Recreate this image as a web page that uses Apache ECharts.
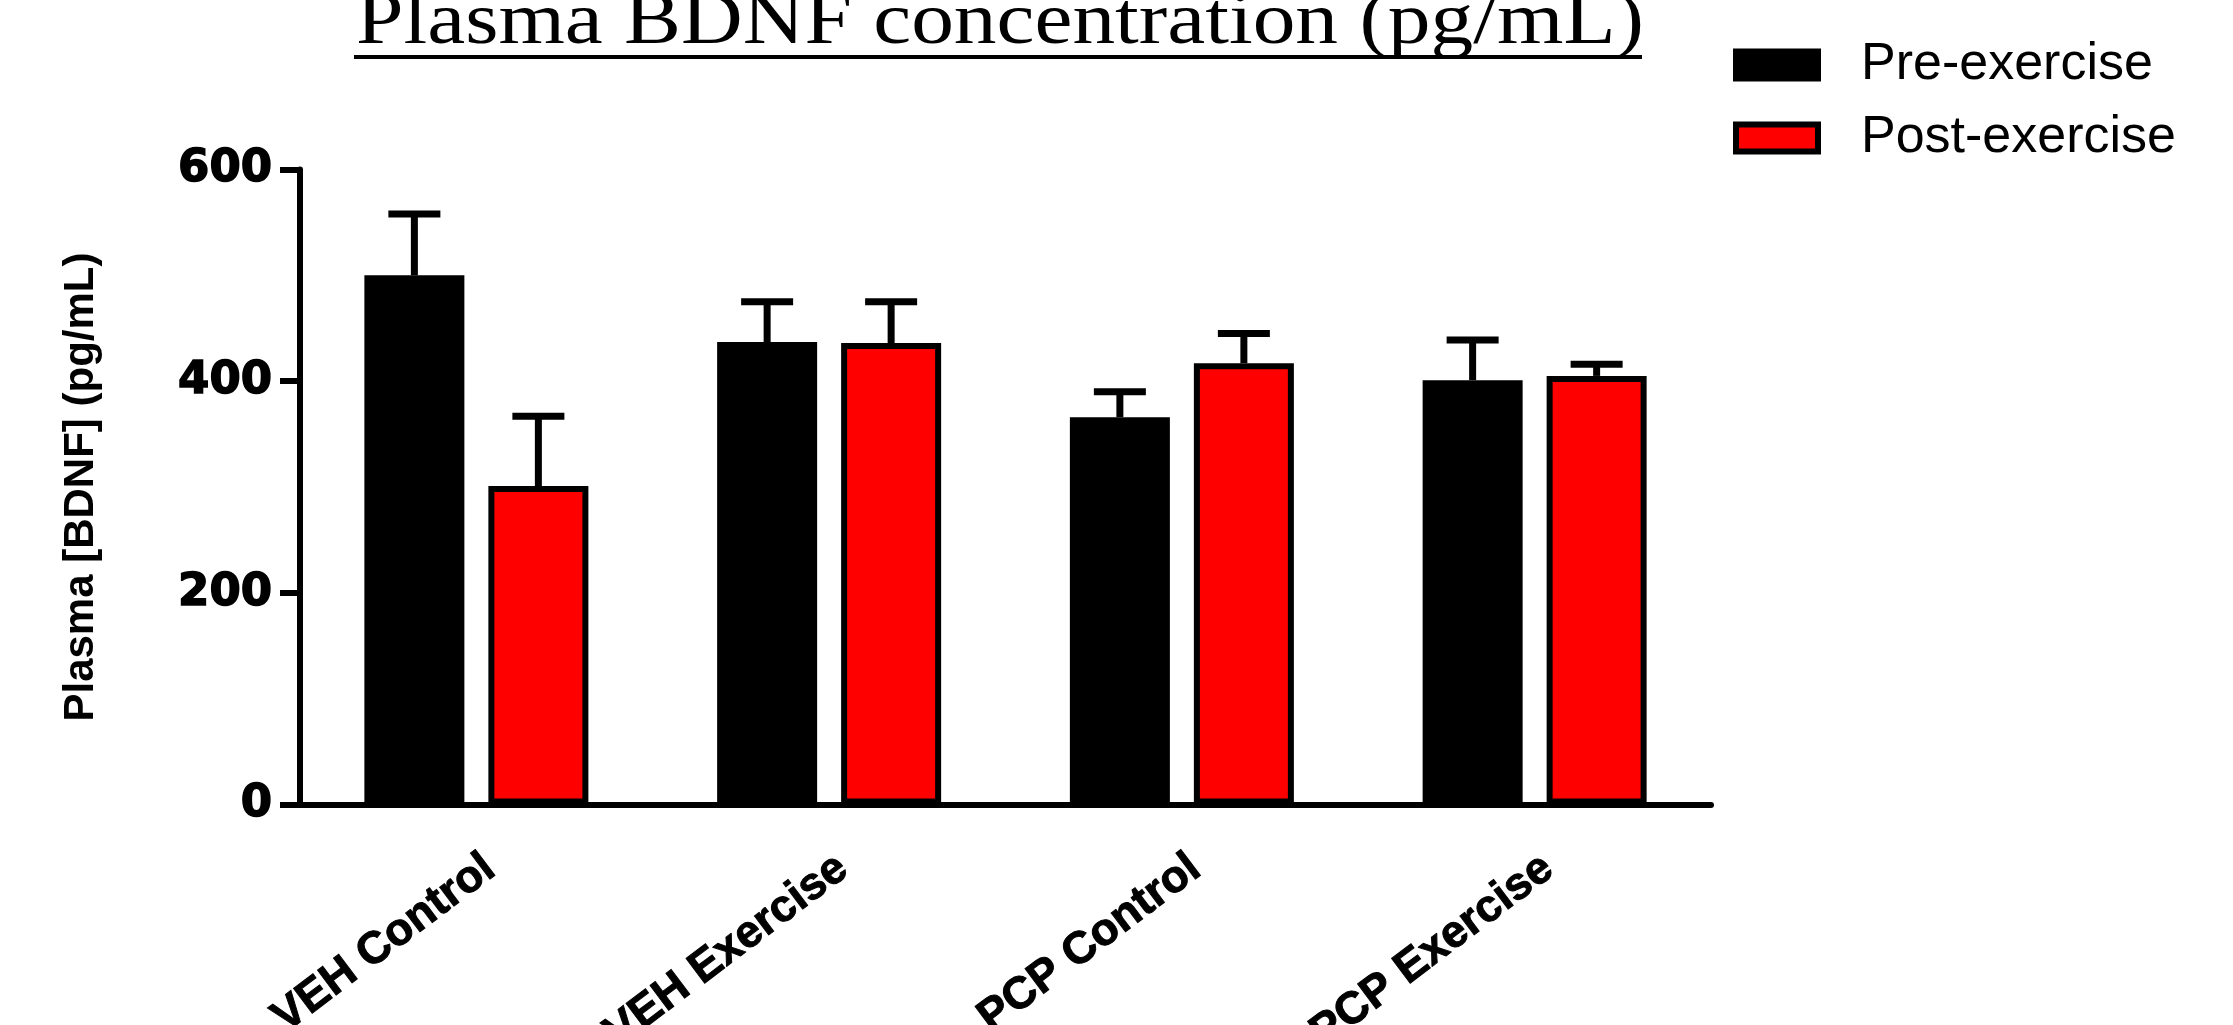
<!DOCTYPE html>
<html>
<head>
<meta charset="utf-8">
<script src="https://cdn.jsdelivr.net/npm/echarts@6/dist/echarts.min.js"></script>
<style>
html, body { margin: 0; padding: 0; background: #fff; }
#main { width: 2233px; height: 1025px; }
</style>
</head>
<body>
<div id="main"></div>
<script>
var groups = ['VEH Control', 'VEH Exercise', 'PCP Control', 'PCP Exercise'];
var preMean = [500, 437, 366, 401];
var preErrTop = [558, 475, 390, 439];
var postMean = [301, 436, 417, 405];
var postErrTop = [367, 475, 445, 416];
var yTicks = [0, 200, 400, 600];

var barW = 100, barGap = 0.24;
var shift = barW * (1 + barGap) / 2;

// [category index, mean, top of error bar]
function errData(mean, top) {
    var out = [];
    for (var i = 0; i < mean.length; i++) {
        out.push([i, mean[i], top[i]]);
    }
    return out;
}

function errRender(offset) {
    return function(params, api) {
        var base = api.coord([api.value(0), api.value(1)]);
        var tip = api.coord([api.value(0), api.value(2)]);
        var x = base[0] + offset;
        var st = { stroke: '#000', lineWidth: 7 };
        return {
            type: 'group',
            children: [
                { type: 'line', shape: { x1: x, y1: base[1], x2: x, y2: tip[1] }, style: st },
                { type: 'line', shape: { x1: x - 26, y1: tip[1], x2: x + 26, y2: tip[1] }, style: st }
            ]
        };
    };
}

var myChart = echarts.init(document.getElementById('main'));
var axisStyle = { color: '#000', width: 6 };

var option = {
    animation: false,
    backgroundColor: '#fff',
    graphic: [
        {
            type: 'text', x: 356, y: 24, scaleX: 1.17,
            style: {
                text: 'Plasma BDNF concentration (pg/mL)',
                font: '73px "Liberation Serif"',
                fill: '#000',
                textVerticalAlign: 'middle'
            }
        },
        {
            type: 'line',
            shape: { x1: 354, y1: 57, x2: 1642, y2: 57 },
            style: { stroke: '#000', lineWidth: 4 }
        }
    ],
    legend: {
        orient: 'vertical',
        left: 1728,
        top: 34,
        itemWidth: 82,
        itemHeight: 27,
        itemGap: 21,
        icon: 'rect',
        itemStyle: { borderWidth: 6, borderColor: '#000' },
        textStyle: { fontSize: 52, fontFamily: 'Liberation Sans', color: '#000', padding: [0, 0, 0, 38] },
        data: ['Pre-exercise', 'Post-exercise']
    },
    grid: { left: 300, right: 522, top: 169.5, bottom: 220.4, outerBoundsMode: 'none' },
    xAxis: {
        type: 'category',
        data: groups,
        axisLine: { lineStyle: axisStyle },
        axisTick: { alignWithLabel: true, length: 17, lineStyle: axisStyle },
        axisLabel: {
            interval: 0, rotate: 37, margin: 41, verticalAlign: 'top',
            fontFamily: 'Liberation Sans', fontWeight: 'bold', fontSize: 45, color: '#000',
            textBorderColor: '#000', textBorderWidth: 1
        }
    },
    yAxis: {
        type: 'value',
        min: yTicks[0],
        max: yTicks[yTicks.length - 1],
        interval: 200,
        name: 'Plasma [BDNF] (pg/mL)',
        nameLocation: 'middle',
        nameGap: 198,
        nameTextStyle: { fontFamily: 'Liberation Sans', fontWeight: 'bold', fontSize: 42, color: '#000' },
        axisLine: { show: true, lineStyle: axisStyle },
        axisTick: { show: true, length: 20, lineStyle: axisStyle },
        axisLabel: {
            margin: 28, fontFamily: 'DejaVu Sans', fontWeight: 'bold', fontSize: 45, color: '#000',
            textBorderColor: '#000', textBorderWidth: 1.5
        },
        splitLine: { show: false }
    },
    series: [
        {
            name: 'Pre-exercise', type: 'bar', data: preMean,
            barWidth: barW, barGap: (barGap * 100) + '%',
            itemStyle: { color: '#000', borderColor: '#000', borderWidth: 6 }
        },
        {
            name: 'Post-exercise', type: 'bar', data: postMean,
            barWidth: barW,
            itemStyle: { color: '#ff0000', borderColor: '#000', borderWidth: 6 }
        },
        {
            type: 'custom', data: errData(preMean, preErrTop),
            renderItem: errRender(-shift), z: 1
        },
        {
            type: 'custom', data: errData(postMean, postErrTop),
            renderItem: errRender(shift), z: 1
        }
    ]
};
myChart.setOption(option);
</script>
</body>
</html>
